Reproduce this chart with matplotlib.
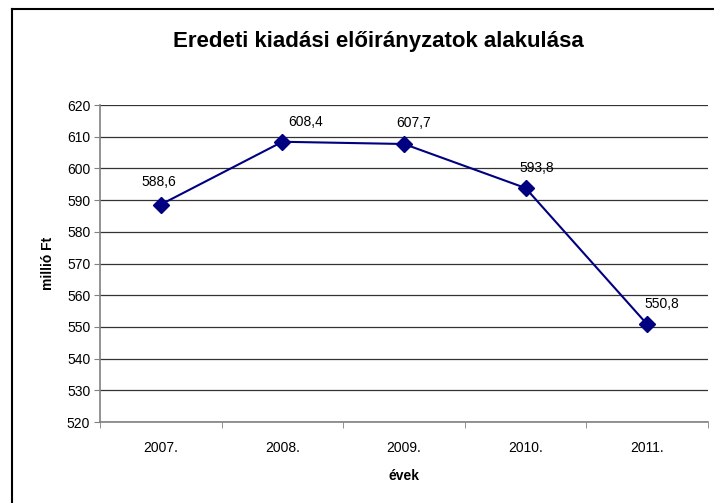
import numpy as np
import matplotlib.pyplot as plt
from matplotlib.lines import Line2D

# data
years = ['2007.', '2008.', '2009.', '2010.', '2011.']
values = [588.6, 608.4, 607.7, 593.8, 550.8]
value_labels = ['588,6', '608,4', '607,7', '593,8', '550,8']

plt.rcParams['font.family'] = ['Liberation Sans', 'DejaVu Sans']

fig = plt.figure(figsize=(7.14, 5.03), dpi=100)
ax = fig.add_axes([100/714, 1-422/503, 608/714, 317/503])

x = np.arange(len(years))
ax.plot(x, values, color='#000080', lw=1.5, marker='D', ms=8, mfc='#000080', mec='#000080', zorder=3)

# label offsets in pixels (dx, dy), as placed in the original
label_off = [(-2, 23), (23, 20), (10, 21), (11, 20), (15, 20)]
for xi, v, lab, (dx, dy) in zip(x, values, value_labels, label_off):
    ax.annotate(lab, (xi, v), xytext=(dx*0.72, dy*0.72), textcoords='offset points',
                ha='center', va='center', fontsize=10)

ax.set_xlim(-0.5, len(years)-0.5)
ax.set_ylim(520, 620)
ax.set_yticks(np.arange(520, 621, 10))
ax.set_xticks(x)
ax.set_xticklabels(years, fontsize=10)
ax.set_xticks(np.arange(-0.5, len(years), 1), minor=True)
ax.tick_params(axis='x', which='major', length=0, pad=14)
ax.tick_params(axis='x', which='minor', length=4, direction='out', color='#808080')
ax.tick_params(axis='y', length=4, direction='out', color='#808080', labelsize=10, pad=3)

ax.grid(axis='y', color='#333333', lw=0.9)
ax.set_axisbelow(True)
for s in ['top', 'right']:
    ax.spines[s].set_visible(False)
for s in ['left', 'bottom']:
    ax.spines[s].set_color('#808080')
    ax.spines[s].set_linewidth(1.2)

fig.text(378/714, 1-41/503, 'Eredeti kiadási előirányzatok alakulása',
         ha='center', va='center', fontsize=16, fontweight='bold')
fig.text(48/714, 1-263/503, 'millió Ft', rotation=90, ha='center', va='center',
         fontsize=10, fontweight='bold')
fig.text(404/714, 1-476/503, 'évek', ha='center', va='center',
         fontsize=10, fontweight='bold')

# chart border (left and top visible)
fig.add_artist(Line2D([12/714, 12/714], [0, 1-9/503], transform=fig.transFigure, color='black', lw=1.5))
fig.add_artist(Line2D([12/714, 1], [1-9/503, 1-9/503], transform=fig.transFigure, color='black', lw=1.5))

fig.savefig('out.png', dpi=100)
